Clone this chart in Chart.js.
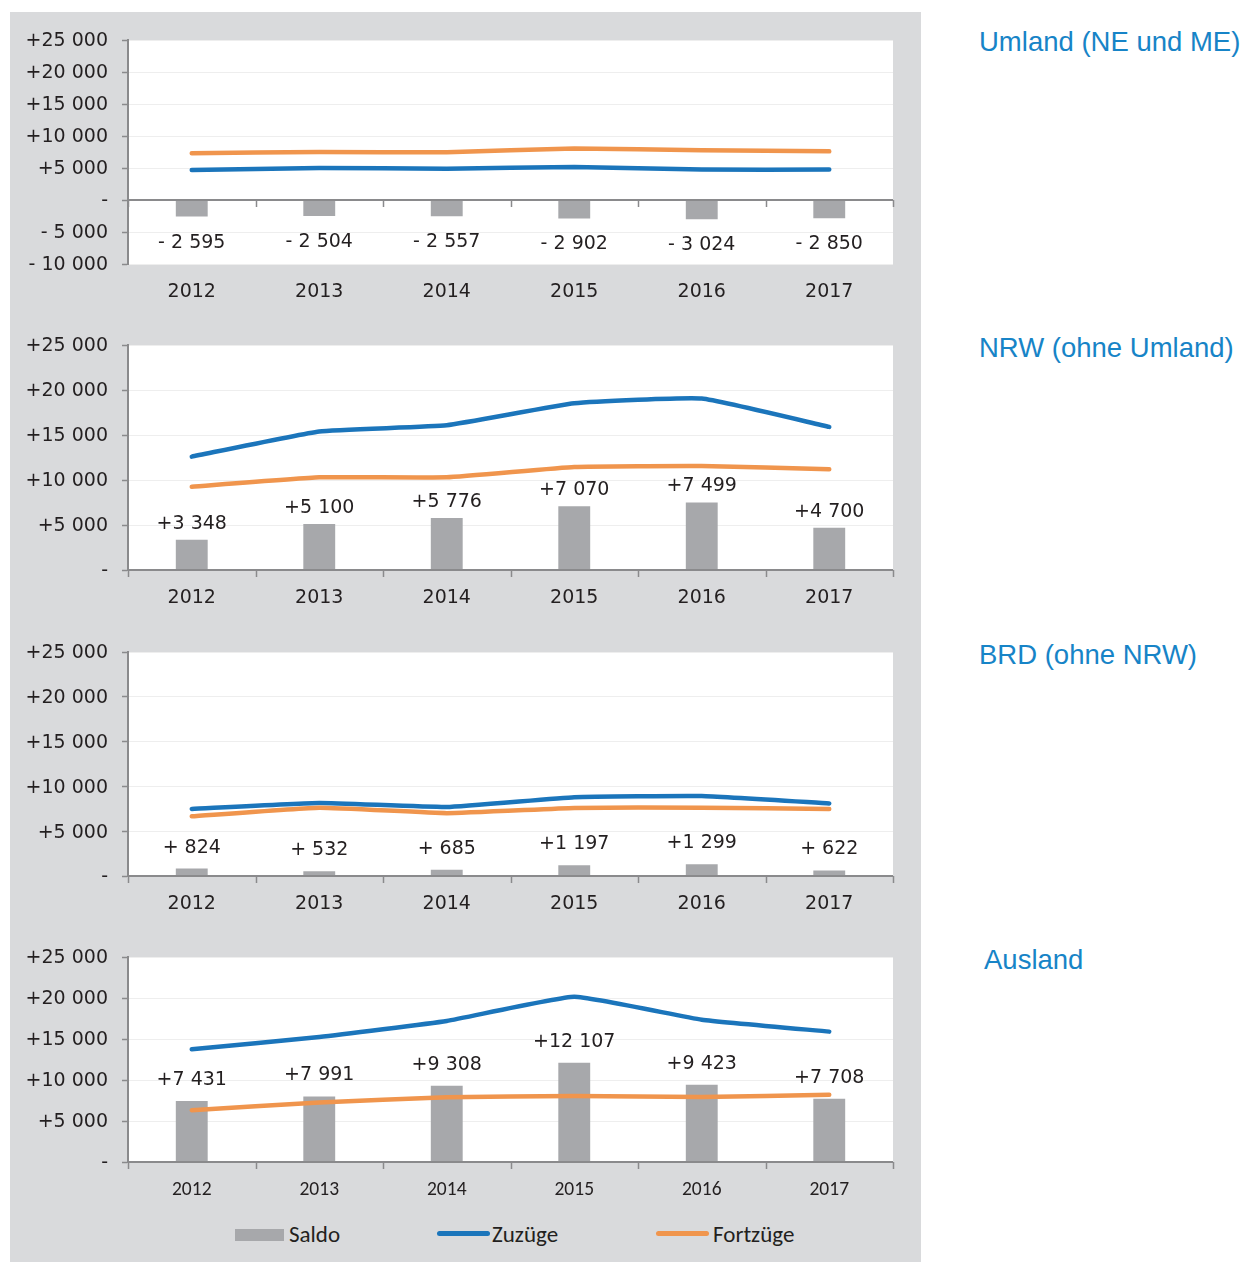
<!DOCTYPE html>
<html><head><meta charset="utf-8">
<script src="https://cdn.jsdelivr.net/npm/chart.js@4.4.0/dist/chart.umd.min.js"></script>
<style>
body{margin:0;background:#fff;width:1241px;height:1263px;position:relative;overflow:hidden;font-family:"Liberation Sans",Arial,sans-serif}
#panel{position:absolute;left:10px;top:12px;width:911px;height:1250px;background:#d9dadc}
canvas{position:absolute;left:10px}
.title{position:absolute;left:979px;color:#1784c7;font-size:27.5px;line-height:1;white-space:nowrap}
.lg{position:absolute;font-family:Carlito,Lato,sans-serif;font-size:23px;line-height:24px;color:#231f20;top:1222px;white-space:nowrap}
.sw{position:absolute}
</style></head>
<body>
<div id="panel"></div>
<canvas id="c1" width="911" height="292" style="top:12px;width:911px;height:292px"></canvas>
<canvas id="c2" width="911" height="292" style="top:318px;width:911px;height:292px"></canvas>
<canvas id="c3" width="911" height="291" style="top:625px;width:911px;height:291px"></canvas>
<canvas id="c4" width="911" height="272" style="top:930px;width:911px;height:272px"></canvas>
<div class="title" style="top:28px">Umland (NE und ME)</div>
<div class="title" style="top:334px">NRW (ohne Umland)</div>
<div class="title" style="top:641px">BRD (ohne NRW)</div>
<div class="title" style="top:946px;left:984px">Ausland</div>
<div class="sw" style="left:235px;top:1229px;width:49px;height:12px;background:#a7a8ab"></div>
<div class="lg" style="left:289px">Saldo</div>
<div class="sw" style="left:437px;top:1231px;width:53px;height:5px;border-radius:3px;background:#1b75bb"></div>
<div class="lg" style="left:492px">Zuzüge</div>
<div class="sw" style="left:656px;top:1231px;width:53px;height:5px;border-radius:3px;background:#f0954d"></div>
<div class="lg" style="left:713px">Fortzüge</div>
<script>
const years = ['2012','2013','2014','2015','2016','2017'];
const yTickStep = 5000;
const yMax = 25000;

const umlandSaldo     = [-2595, -2504, -2557, -2902, -3024, -2850];
const umlandZuzuege   = [4700, 5000, 4900, 5150, 4750, 4750];
const umlandFortzuege = [7295, 7504, 7457, 8052, 7774, 7600];

const nrwSaldo     = [3348, 5100, 5776, 7070, 7499, 4700];
const nrwZuzuege   = [12600, 15400, 16080, 18520, 19050, 15900];
const nrwFortzuege = [9252, 10300, 10304, 11450, 11551, 11200];

const brdSaldo     = [824, 532, 685, 1197, 1299, 622];
const brdZuzuege   = [7480, 8150, 7700, 8800, 8930, 8100];
const brdFortzuege = [6656, 7618, 7015, 7603, 7631, 7478];

const auslandSaldo     = [7431, 7991, 9308, 12107, 9423, 7708];
const auslandZuzuege   = [13750, 15250, 17200, 20150, 17350, 15900];
const auslandFortzuege = [6319, 7259, 7892, 8043, 7927, 8192];

function grp(n){ return String(n).replace(/\B(?=(\d{3})+(?!\d))/g, ' '); }
function fmtSigned(v){
  if (v === 0) return '-';
  const a = Math.abs(v), s = grp(a);
  if (v > 0) return '+' + (a < 1000 ? ' ' + s : s);
  return '- ' + s;
}

const AXIS = '#8a8a8c';
const TXT = '#231f20';
const MAINFONT = 'DejaVu Sans';
const MAINWEIGHT = 'normal';

const bgPlugin = { id:'bgArea', beforeDraw(c){
  const a = c.chartArea, x = c.ctx;
  x.save(); x.fillStyle = '#ffffff'; x.fillRect(a.left, a.top, a.right-a.left, a.bottom-a.top); x.restore();
}};
const zeroAxis = { id:'zeroAxis', afterDatasetsDraw(c){
  const a = c.chartArea, ctx = c.ctx, xs = c.scales.x;
  const y = Math.round(c.scales.y.getPixelForValue(0));
  const n = c.data.labels.length;
  ctx.save(); ctx.strokeStyle = AXIS; ctx.lineWidth = 2;
  ctx.beginPath(); ctx.moveTo(a.left, y); ctx.lineTo(a.right, y); ctx.stroke();
  ctx.lineWidth = 1.5;
  for (let i = 0; i <= n; i++) {
    let b = i === 0 ? a.left : i === n ? a.right : (xs.getPixelForValue(i-1) + xs.getPixelForValue(i)) / 2;
    b = Math.round(b) + 0.5;
    ctx.beginPath(); ctx.moveTo(b, y); ctx.lineTo(b, y + 7); ctx.stroke();
  }
  ctx.restore();
}};
const dataLabels = { id:'dl', afterDatasetsDraw(c, args, opts){
  const meta = c.getDatasetMeta(0), ds = c.data.datasets[0], ctx = c.ctx;
  const fs = 19;
  ctx.save(); ctx.font = MAINWEIGHT + ' ' + fs + 'px "' + MAINFONT + '"'; ctx.fillStyle = TXT;
  ctx.textAlign = 'center'; ctx.textBaseline = 'alphabetic';
  meta.data.forEach((el, i) => {
    const v = ds.data[i];
    const cy = v >= 0 ? el.y - opts.offset : el.y + opts.offset;
    ctx.fillText(fmtSigned(v), el.x, cy + 0.364 * fs);
  });
  ctx.restore();
}};

function makeChart(id, saldo, zu, fort, cfg){
  new Chart(document.getElementById(id), {
    type: 'bar',
    data: { labels: years, datasets: [
      { type:'bar', label:'Saldo', data: saldo, backgroundColor:'#a7a8ab', barPercentage:0.25, categoryPercentage:1, order:2 },
      { type:'line', label:'Zuzüge', data: zu, borderColor:'#1b75bb', borderWidth:4.5, pointRadius:0, tension:0.12, borderCapStyle:'round', borderJoinStyle:'round', fill:false, order:1 },
      { type:'line', label:'Fortzüge', data: fort, borderColor:'#f0954d', borderWidth:4.5, pointRadius:0, tension:0.12, borderCapStyle:'round', borderJoinStyle:'round', fill:false, order:0 }
    ]},
    options: {
      responsive:false, animation:false, devicePixelRatio:1,
      layout:{ padding:{ top: cfg.padTop, right:28, left:0, bottom:0 } },
      plugins:{ legend:{display:false}, tooltip:{enabled:false}, dl:{ offset: cfg.labelOffset } },
      scales:{
        x:{ offset:true, grid:{display:false, drawTicks:false}, border:{display:false},
            ticks:{ font: cfg.xFont, color: TXT, padding: cfg.xPad },
            afterFit(s){ s.height = 40; } },
        y:{ min: cfg.min, max: yMax,
            ticks:{ stepSize: yTickStep, callback: v => fmtSigned(v), font:{ family: MAINFONT, size:19, weight: MAINWEIGHT }, color: TXT, padding:14, labelOffset:1.5 },
            grid:{ color:'#eeeeee', tickColor: AXIS, tickLength:6, tickWidth:1.5 },
            border:{ color: AXIS, width:2 },
            afterFit(s){ s.width = 118; } }
      }
    },
    plugins:[bgPlugin, zeroAxis, dataLabels]
  });
}
const mainX = { family: MAINFONT, size:19, weight: MAINWEIGHT };
makeChart('c1', umlandSaldo, umlandZuzuege, umlandFortzuege, { padTop:28, min:-10000, labelOffset:24, xFont: mainX, xPad:16.5 });
makeChart('c2', nrwSaldo, nrwZuzuege, nrwFortzuege, { padTop:27, min:0, labelOffset:18, xFont: mainX, xPad:16.5 });
makeChart('c3', brdSaldo, brdZuzuege, brdFortzuege, { padTop:27, min:0, labelOffset:23, xFont: mainX, xPad:16.5 });
makeChart('c4', auslandSaldo, auslandZuzuege, auslandFortzuege, { padTop:27, min:0, labelOffset:23, xFont: { family:'Carlito, Lato', size:19.5 }, xPad:16 });
</script>
</body></html>
